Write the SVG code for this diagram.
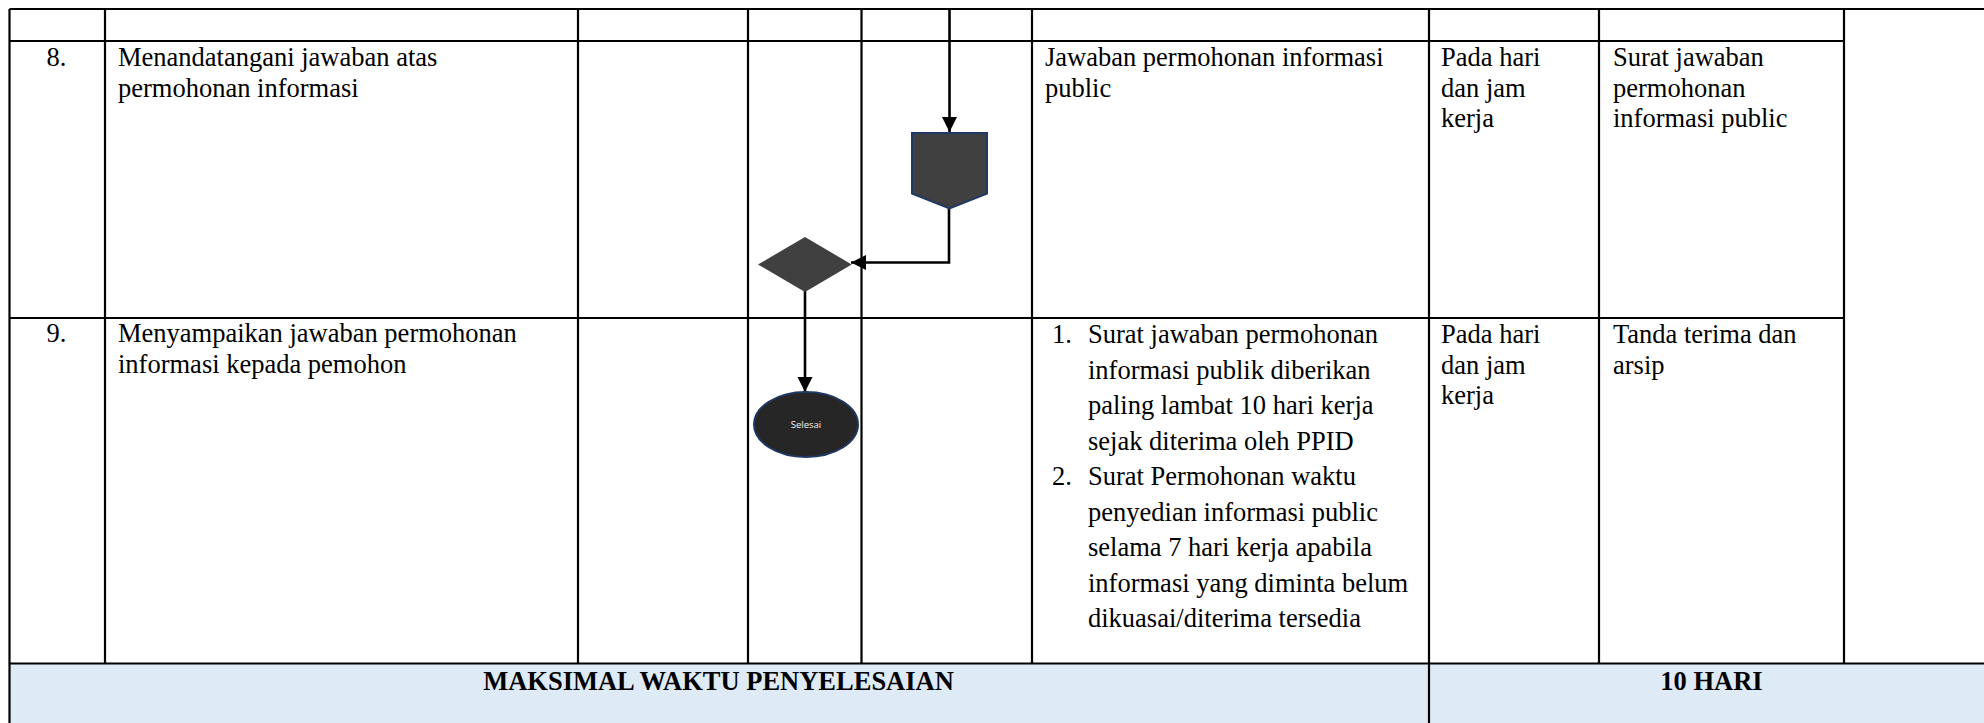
<svg xmlns="http://www.w3.org/2000/svg" width="1984" height="723" viewBox="0 0 1984 723">
<style>
.grid{stroke:#000;stroke-width:2.2;fill:none}
.t{font-family:"Liberation Serif","Times New Roman",serif;font-size:26.5px;fill:#000}
.b{font-weight:bold}
.c{text-anchor:middle}
.conn{stroke:#000;stroke-width:2.6;fill:none}
.shape{fill:#404040;stroke:#1F3864;stroke-width:2}
</style>
<defs>
<marker id="arr" markerUnits="userSpaceOnUse" markerWidth="16" markerHeight="16" refX="15" refY="7.5" orient="auto">
<path d="M0,0 L15,7.5 L0,15 z" fill="#000"/>
</marker>
</defs>
<rect width="1984" height="723" fill="#fff"/>
<g id="table">
<rect x="9.5" y="663.5" width="1975" height="60" fill="#DEEAF6"/>
<path class="grid" d="M9.5 9 H1984 M9.5 41 H1844 M9.5 318 H1844 M9.5 663.5 H1984 M9.5 9 V723 M105 9 V663.5 M578 9 V663.5 M748 9 V663.5 M861.5 9 V663.5 M1032 9 V663.5 M1429 9 V723 M1599 9 V663.5 M1844 9 V663.5"/>
</g>
<g id="row8">
<text class="t c" x="56.5" y="66">8.</text>
<text class="t" x="118" y="66">Menandatangani jawaban atas</text>
<text class="t" x="118" y="96.5">permohonan informasi</text>
<text class="t" x="1045" y="66">Jawaban permohonan informasi</text>
<text class="t" x="1045" y="96.5">public</text>
<text class="t" x="1441" y="66">Pada hari</text>
<text class="t" x="1441" y="96.5">dan jam</text>
<text class="t" x="1441" y="127">kerja</text>
<text class="t" x="1613" y="66">Surat jawaban</text>
<text class="t" x="1613" y="96.5">permohonan</text>
<text class="t" x="1613" y="127">informasi public</text>
</g>
<g id="row9">
<text class="t c" x="56.5" y="342">9.</text>
<text class="t" x="118" y="342">Menyampaikan jawaban permohonan</text>
<text class="t" x="118" y="372.5">informasi kepada pemohon</text>
<text class="t" x="1052" y="343">1.</text>
<text class="t" x="1088" y="343">Surat jawaban permohonan</text>
<text class="t" x="1088" y="378.5">informasi publik diberikan</text>
<text class="t" x="1088" y="414">paling lambat 10 hari kerja</text>
<text class="t" x="1088" y="449.5">sejak diterima oleh PPID</text>
<text class="t" x="1052" y="485">2.</text>
<text class="t" x="1088" y="485">Surat Permohonan waktu</text>
<text class="t" x="1088" y="520.5">penyedian informasi public</text>
<text class="t" x="1088" y="556">selama 7 hari kerja apabila</text>
<text class="t" x="1088" y="591.5">informasi yang diminta belum</text>
<text class="t" x="1088" y="627">dikuasai/diterima tersedia</text>
<text class="t" x="1441" y="343">Pada hari</text>
<text class="t" x="1441" y="373.5">dan jam</text>
<text class="t" x="1441" y="404">kerja</text>
<text class="t" x="1613" y="343">Tanda terima dan</text>
<text class="t" x="1613" y="373.5">arsip</text>
</g>
<g id="summary">
<text class="t b c" x="718.5" y="690">MAKSIMAL WAKTU PENYELESAIAN</text>
<text class="t b c" x="1711.5" y="690">10 HARI</text>
</g>
<g id="connectors">
<path class="conn" d="M949.5 9 V132" marker-end="url(#arr)"/>
<path class="conn" d="M949 207 V262.5 H851" marker-end="url(#arr)"/>
<path class="conn" d="M805 291 V392" marker-end="url(#arr)"/>
</g>
<g id="offpage">
<path class="shape" d="M912 133 H987 V193.5 L949.5 208.5 L912 193.5 Z"/>
</g>
<g id="decision">
<path d="M805 237 L851.7 264.5 L805 292 L758 264.5 Z" fill="#404040"/>
</g>
<g id="selesai">
<ellipse cx="806" cy="424.5" rx="52" ry="32.5" fill="#262626" stroke="#1F3864" stroke-width="2"/>
<text x="806" y="428" text-anchor="middle" font-family="'Open Sans','Liberation Sans',sans-serif" font-size="9.5" fill="#F2F2F2">Selesai</text>
</g>
</svg>
